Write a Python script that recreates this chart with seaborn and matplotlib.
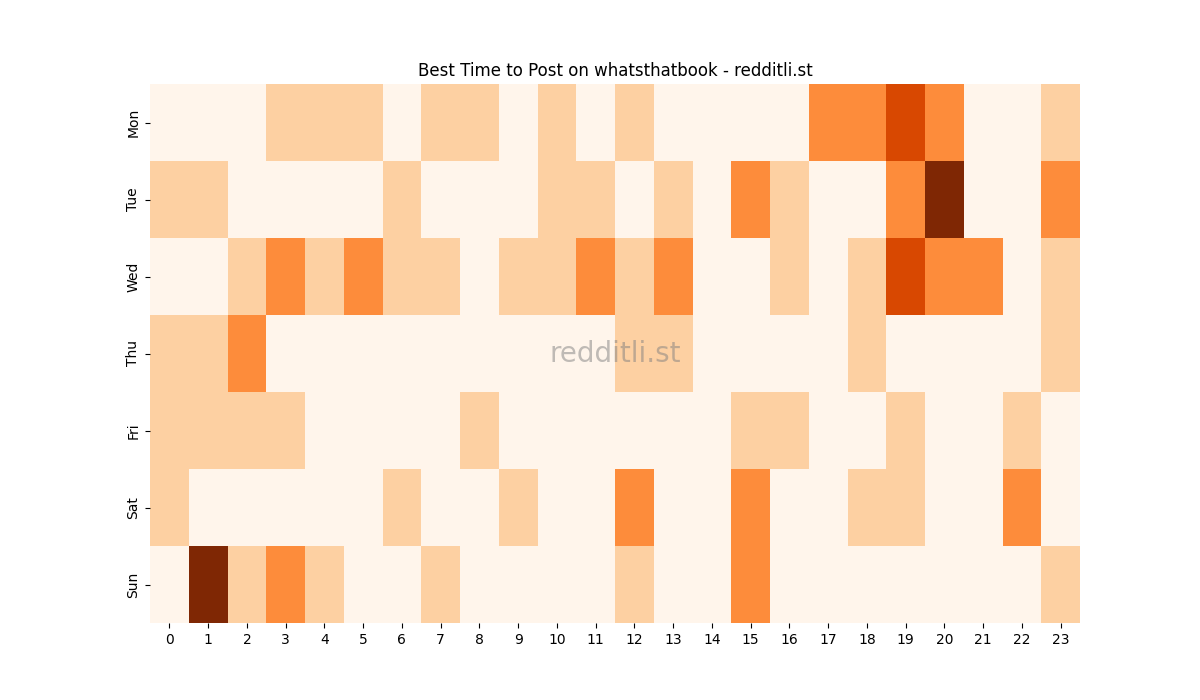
import matplotlib
matplotlib.use("Agg")
import matplotlib.pyplot as plt
import seaborn as sns
import numpy as np

days = ["Mon", "Tue", "Wed", "Thu", "Fri", "Sat", "Sun"]
hours = list(range(24))

mon = [0, 0, 0, 1, 1, 1, 0, 1, 1, 0, 1, 0, 1, 0, 0, 0, 0, 2, 2, 3, 2, 0, 0, 1]
tue = [1, 1, 0, 0, 0, 0, 1, 0, 0, 0, 1, 1, 0, 1, 0, 2, 1, 0, 0, 2, 4, 0, 0, 2]
wed = [0, 0, 1, 2, 1, 2, 1, 1, 0, 1, 1, 2, 1, 2, 0, 0, 1, 0, 1, 3, 2, 2, 0, 1]
thu = [1, 1, 2, 0, 0, 0, 0, 0, 0, 0, 0, 0, 1, 1, 0, 0, 0, 0, 1, 0, 0, 0, 0, 1]
fri = [1, 1, 1, 1, 0, 0, 0, 0, 1, 0, 0, 0, 0, 0, 0, 1, 1, 0, 0, 1, 0, 0, 1, 0]
sat = [1, 0, 0, 0, 0, 0, 1, 0, 0, 1, 0, 0, 2, 0, 0, 2, 0, 0, 1, 1, 0, 0, 2, 0]
sun = [0, 4, 1, 2, 1, 0, 0, 1, 0, 0, 0, 0, 1, 0, 0, 2, 0, 0, 0, 0, 0, 0, 0, 1]

grid = np.array([mon, tue, wed, thu, fri, sat, sun])

fig, ax = plt.subplots(figsize=(12, 7), dpi=100)
sns.heatmap(grid, cmap="Oranges", cbar=False, xticklabels=hours,
            yticklabels=days, ax=ax)
ax.set_title("Best Time to Post on whatsthatbook - redditli.st")
ax.text(0.5, 0.5, "redditli.st", transform=ax.transAxes, ha="center",
        va="center", fontsize=20, color="grey", alpha=0.5)
plt.savefig("out.png")
